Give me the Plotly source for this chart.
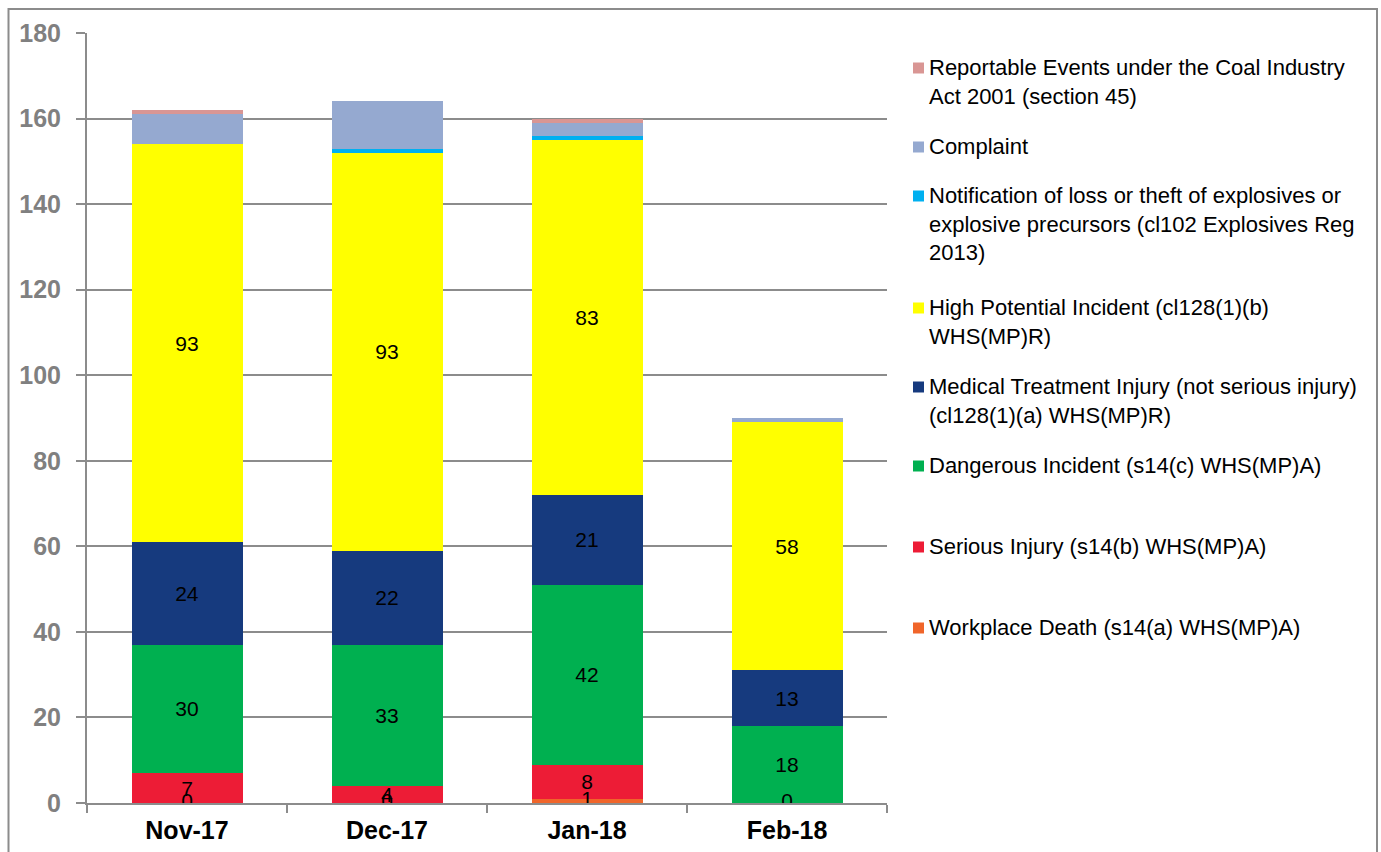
import plotly.graph_objects as go

months = ["Nov-17", "Dec-17", "Jan-18", "Feb-18"]

workplace_death = [0, 0, 1, 0]
serious_injury = [7, 4, 8, 0]
dangerous_incident = [30, 33, 42, 18]
medical_treatment = [24, 22, 21, 13]
high_potential = [93, 93, 83, 58]
explosives = [0, 1, 1, 0]
complaint = [7, 11, 3, 1]
reportable = [1, 0, 1, 0]

serious_labels = ["7", "4", "8", ""]
death_labels = ["0", "0", "1", "0"]

series_names = [
    "Workplace Death (s14(a) WHS(MP)A)",
    "Serious Injury (s14(b) WHS(MP)A)",
    "Dangerous Incident (s14(c) WHS(MP)A)",
    "Medical Treatment Injury (not serious injury)<br>(cl128(1)(a) WHS(MP)R)",
    "High Potential Incident (cl128(1)(b)<br>WHS(MP)R)",
    "Notification of loss or theft of explosives or<br>explosive precursors (cl102 Explosives Reg<br>2013)",
    "Complaint",
    "Reportable Events under the Coal Industry<br>Act 2001 (section 45)",
]
series_colors = ["#F0652A", "#ED1C36", "#00B050", "#163A7E", "#FFFF00",
                 "#00B0F0", "#95A9D0", "#D99694"]
series_values = [workplace_death, serious_injury, dangerous_incident, medical_treatment,
                 high_potential, explosives, complaint, reportable]
series_text = [None, serious_labels,
               [str(v) for v in dangerous_incident],
               [str(v) for v in medical_treatment],
               [str(v) for v in high_potential],
               None, None, None]

FONT = "Arial, Liberation Sans, sans-serif"

fig = go.Figure()
for name, color, vals, txt in zip(series_names, series_colors, series_values, series_text):
    fig.add_trace(go.Bar(
        x=months, y=vals, name=name,
        marker=dict(color=color, line=dict(width=0)),
        text=txt if txt is not None else None,
        textposition="inside" if txt is not None else "none",
        insidetextanchor="middle",
        textangle=0,
        constraintext="none",
        textfont=dict(family=FONT, size=21, color="#000000"),
        showlegend=False,
        hoverinfo="name+y",
    ))

# Workplace death labels (zero-height bars)
fig.add_trace(go.Scatter(
    x=months, y=[v / 2 for v in workplace_death], mode="text",
    text=death_labels, textposition="middle center",
    textfont=dict(family=FONT, size=21, color="#000000"),
    showlegend=False, hoverinfo="skip",
))

L, T, W, H = 87, 33, 800, 770


def px(xp):
    return (xp - L) / W


def py(yp):
    return (T + H - yp) / H


# Manual legend (entry first-line centres, in pixels), top item = last series
legend_rows = [
    (7, 68), (6, 147), (5, 196), (4, 308), (3, 387), (2, 466), (1, 547), (0, 628)
]
shapes = []
annotations = []
for idx, yc in legend_rows:
    shapes.append(dict(type="rect", xref="paper", yref="paper",
                       x0=px(913), x1=px(924), y0=py(yc + 5.5), y1=py(yc - 5.5),
                       fillcolor=series_colors[idx], line=dict(width=0)))
    annotations.append(dict(xref="paper", yref="paper", x=px(927), y=py(yc - 15),
                            xanchor="left", yanchor="top", align="left",
                            text=series_names[idx], showarrow=False,
                            font=dict(family=FONT, size=22, color="#000000")))

# outer chart border
shapes.append(dict(type="rect", xref="paper", yref="paper",
                   x0=px(8.5), x1=px(1377), y0=py(870), y1=py(9),
                   line=dict(color="#8C8C8C", width=2), fillcolor="rgba(0,0,0,0)",
                   layer="below"))

fig.update_layout(
    barmode="stack",
    bargap=0.445,
    width=1381, height=852,
    margin=dict(l=L, r=1381 - L - W, t=T, b=852 - T - H, pad=0, autoexpand=False),
    paper_bgcolor="white",
    plot_bgcolor="white",
    shapes=shapes,
    annotations=annotations,
    showlegend=False,
    xaxis=dict(
        automargin=False,
        showline=True, linecolor="#8C8C8C", linewidth=2,
        ticks="outside", tickson="boundaries", ticklen=8, tickcolor="#8C8C8C", tickwidth=1.5,
        tickfont=dict(family=FONT, size=25, color="#000000", weight="bold"),
        ticklabelstandoff=4,
        showgrid=False,
    ),
    yaxis=dict(
        automargin=False,
        range=[0, 180], dtick=20,
        showline=True, linecolor="#8C8C8C", linewidth=2,
        ticks="outside", ticklen=9, tickcolor="#8C8C8C", tickwidth=2,
        showgrid=True, gridcolor="#8C8C8C", gridwidth=1.5,
        zeroline=False,
        tickfont=dict(family=FONT, size=25, color="#808080", weight="bold"),
        ticklabelstandoff=10,
    ),
)

fig.write_html(
    "out.html",
    config={"displayModeBar": False},
    post_script="document.body.style.margin='0';document.body.style.padding='0';"
                "document.documentElement.style.overflow='hidden';",
)
